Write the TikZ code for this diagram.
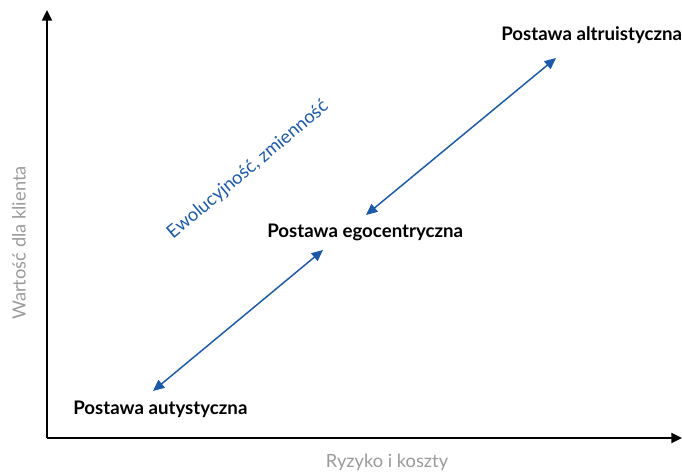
\documentclass[tikz,border=0pt]{standalone}
\usepackage{fontspec}
\setmainfont{Lato}
\usetikzlibrary{arrows.meta}
\definecolor{arrblue}{HTML}{1A5AA8}
\definecolor{axgray}{HTML}{9A9A9A}
\tikzset{
  axis/.style={line width=1.5pt,-{Triangle[length=8pt,width=7.5pt]}},
  evo/.style={draw=arrblue,line width=1.1pt,{Triangle[length=8.5pt,width=7.5pt]}-{Triangle[length=8.5pt,width=7.5pt]}},
  posture/.style={font=\bfseries\fontsize{14}{16}\selectfont,inner sep=0pt,anchor=west},
  axlabel/.style={text=axgray,font=\fontsize{13.7}{16}\selectfont,inner sep=0pt},
}
\begin{document}
\begin{tikzpicture}[x=0.75pt,y=-0.75pt]
\useasboundingbox (0,0) rectangle (682,474);
\coordinate (O) at (47,438);
\coordinate (ytop) at (47,10);
\coordinate (xend) at (682,438);
\draw[axis] (O) -- (ytop);
\draw[axis] (O) -- (xend);
\node[posture] (alt) at (501,35) {Postawa altruistyczna};
\node[posture] (ego) at (267,232) {Postawa egocentryczna};
\node[posture] (aut) at (73,409) {Postawa autystyczna};
\coordinate (a1) at (153,391);
\coordinate (a2) at (323,250);
\coordinate (b1) at (366,215);
\coordinate (b2) at (556,58);
\draw[evo] (a1) -- (a2);
\draw[evo] (b1) -- (b2);
\node[text=arrblue,font=\fontsize{13.8}{16}\selectfont,rotate=40,inner sep=0pt] (evot) at (248,170) {Ewolucyjność, zmienność};
\node[axlabel,rotate=90] (ylab) at (19,243) {Wartość dla klienta};
\node[axlabel] (xlab) at (387,462) {Ryzyko i koszty};
\end{tikzpicture}
\end{document}
